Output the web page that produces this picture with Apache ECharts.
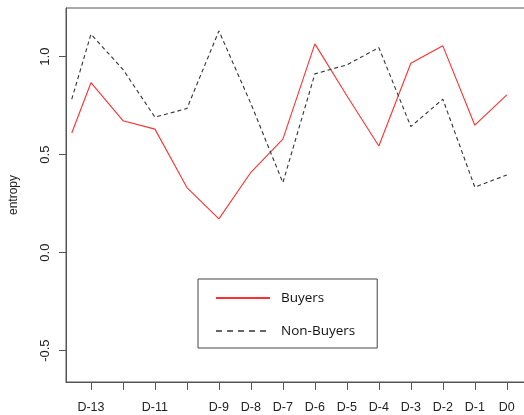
<!DOCTYPE html>
<html>
<head>
<meta charset="utf-8">
<script src="https://cdn.jsdelivr.net/npm/echarts@6/dist/echarts.min.js"></script>
<style>
html,body{margin:0;padding:0;background:#fff;}
#chart{width:524px;height:415px;}
</style>
</head>
<body>
<div id="chart"></div>
<script>
// x positions (days relative to purchase; first point lies left of D-13)
const days = [-13.6, -13, -12, -11, -10, -9, -8, -7, -6, -5, -4, -3, -2, -1, 0];
const buyers = [0.61, 0.867, 0.673, 0.630, 0.332, 0.172, 0.41, 0.579, 1.065, 0.80, 0.544, 0.966, 1.055, 0.650, 0.805];
const nonBuyers = [0.783, 1.114, 0.935, 0.691, 0.735, 1.131, 0.76, 0.357, 0.912, 0.958, 1.046, 0.643, 0.783, 0.334, 0.396];
const tickDays = [-13, -12, -11, -10, -9, -8, -7, -6, -5, -4, -3, -2, -1, 0];
const labelDays = [-13, -11, -9, -8, -7, -6, -5, -4, -3, -2, -1, 0];
const yTicks = [-0.5, 0, 0.5, 1.0];

const chart = echarts.init(document.getElementById('chart'), null, {renderer: 'canvas'});
const axisColor = '#555';
const textColor = '#222';
chart.setOption({
  animation: false,
  backgroundColor: '#fff',
  grid: {left: 66, top: 8, bottom: 33, right: -2, show: true, borderColor: axisColor, borderWidth: 1,
         containLabel: false, outerBoundsMode: 'none'},
  xAxis: {
    type: 'value', min: -13.78, max: 0.6,
    axisLine: {show: true, onZero: false, lineStyle: {color: axisColor}},
    axisTick: {show: true, length: 8, customValues: tickDays, lineStyle: {color: axisColor}},
    axisLabel: {
      customValues: labelDays, margin: 19, color: textColor, hideOverlap: false,
      fontFamily: 'Liberation Sans Narrow, Liberation Sans, Arial', fontSize: 12.5,
      formatter: v => 'D' + (Math.round(v) === 0 ? '0' : String(Math.round(v)))
    },
    splitLine: {show: false}
  },
  yAxis: {
    type: 'value', min: -0.66, max: 1.248,
    name: 'entropy', nameLocation: 'middle', nameGap: 46, nameRotate: 90,
    nameTextStyle: {color: textColor, fontFamily: 'Liberation Sans, Arial', fontSize: 12},
    axisLine: {show: true, onZero: false, lineStyle: {color: axisColor}},
    axisTick: {show: true, length: 7, customValues: yTicks, lineStyle: {color: axisColor}},
    axisLabel: {
      customValues: yTicks, rotate: 90, margin: 14, color: textColor,
      fontFamily: 'Liberation Sans, Arial', fontSize: 13,
      formatter: v => v.toFixed(1)
    },
    splitLine: {show: false}
  },
  legend: {
    orient: 'vertical', left: 198, top: 279,
    padding: [12, 22, 10, 17],
    itemWidth: 54, itemHeight: 14, itemGap: 19,
    borderColor: '#444', borderWidth: 1, backgroundColor: '#fff',
    itemStyle: {opacity: 0, borderWidth: 0},
    textStyle: {color: '#111', fontFamily: 'Open Sans, Noto Sans, sans-serif', fontSize: 13.5, padding: [0, 0, 0, 6]},
    data: [
      {name: 'Buyers'},
      {name: 'Non-Buyers', lineStyle: {type: [6, 5], width: 1.3}}
    ]
  },
  series: [
    {
      name: 'Buyers', type: 'line', symbol: 'none',
      data: days.map((d, i) => [d, buyers[i]]),
      lineStyle: {color: '#ff3030', width: 1.1},
      itemStyle: {color: '#ff3030'}
    },
    {
      name: 'Non-Buyers', type: 'line', symbol: 'none',
      data: days.map((d, i) => [d, nonBuyers[i]]),
      lineStyle: {color: '#333', width: 1.1, type: [4, 3]},
      itemStyle: {color: '#333'}
    }
  ]
});
</script>
</body>
</html>
